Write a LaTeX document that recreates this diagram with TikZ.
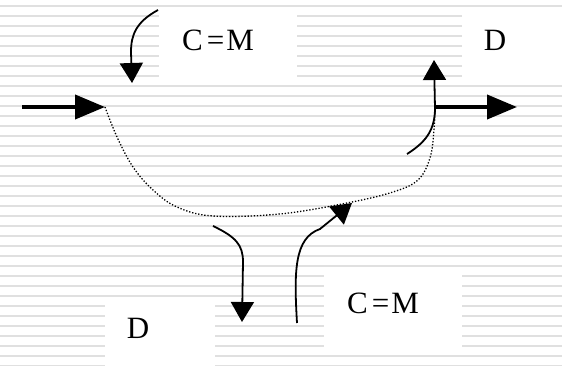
\documentclass[tikz,border=0pt]{standalone}
\usepackage{fontspec}
\setmainfont{Liberation Serif}
\usetikzlibrary{arrows.meta}
\begin{document}
\begin{tikzpicture}[x=1pt,y=-1pt,
  stripe/.style={fill=black!12},
  whitebox/.style={fill=white},
  txt/.style={inner sep=0pt,font=\fontsize{31}{36}\selectfont},
  curvearrow/.style={line width=1.8pt,-{Triangle[length=20pt,width=23pt]}},
  straightarrow/.style={line width=4pt,-{Triangle[length=30pt,width=24pt]}},
  flow/.style={line width=1.3pt,dash pattern=on 1.3pt off 1.8pt}]
\useasboundingbox (0,0) rectangle (562,366);
\fill[white] (0,0) rectangle (562,366);
\foreach \yy in {6,16,...,366}
  \fill[stripe] (0,\yy-1.2) rectangle (562,\yy+1.2);
% white boxes
\fill[whitebox] (159,8) rectangle (297,82);
\fill[whitebox] (462,8) rectangle (562,84);
\fill[whitebox] (105,300) rectangle (215,366);
\fill[whitebox] (324,273) rectangle (462,347);
% texts
\node[txt] (cmtop) at (218,40) {C\kern4pt=\kern2pt M};
\node[txt] (dtop) at (495,40) {D};
\node[txt] (dbot) at (138,328) {D};
\node[txt] (cmbot) at (383,303) {C\kern4pt=\kern2pt M};
% coordinates
\coordinate (inS) at (22,107);
\coordinate (inE) at (105,107);
\coordinate (outS) at (435,107);
\coordinate (outE) at (517,107);
\coordinate (a1s) at (158,10);
\coordinate (a1e) at (132,83);
\coordinate (a2s) at (407,154);
\coordinate (a2e) at (434,60);
\coordinate (a3s) at (213,226);
\coordinate (a3e) at (242,322);
\coordinate (a4s) at (297,323);
\coordinate (a4e) at (352,203);
% dotted flow
\draw[flow] plot[smooth,tension=0.6] coordinates {(105,107) (117,137) (133,167) (153,190) (177,207) (213,216) (280,214) (347,203) (393,192) (418,180) (430,158) (434,130) (435,107)};
% straight arrows
\draw[straightarrow] (inS) -- (inE);
\draw[straightarrow] (outS) -- (outE);
% curved arrows
\draw[curvearrow] (a1s) .. controls (136,22) and (131,35) .. (131,52) -- (a1e);
\draw[curvearrow] (a2s) .. controls (426,142) and (435,130) .. (435,108) -- (a2e);
\draw[curvearrow] (a3s) .. controls (236,237) and (243,245) .. (243,262) -- (a3e);
\draw[curvearrow] (a4s) .. controls (294,272) and (294,238) .. (320,229) -- (a4e);
\end{tikzpicture}
\end{document}
